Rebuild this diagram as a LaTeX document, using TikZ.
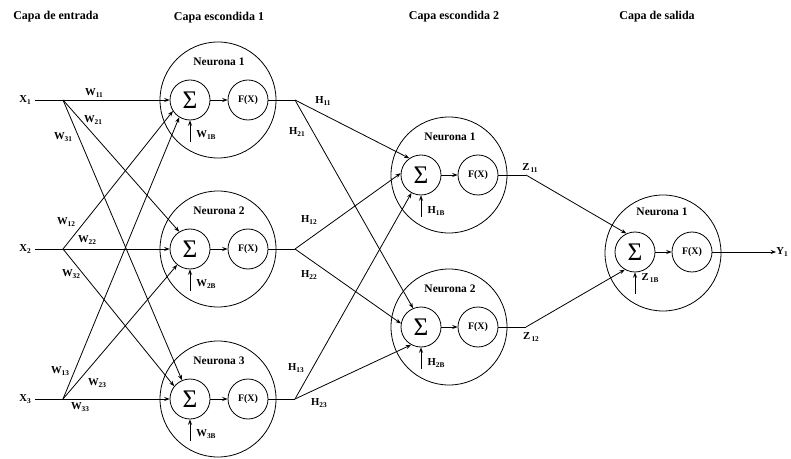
\documentclass[tikz,border=0pt]{standalone}
\usepackage{fontspec}
\setmainfont{Liberation Serif}
\usetikzlibrary{arrows.meta}
% letter with a small lowered index
\newcommand{\idx}[2]{#1\raisebox{-0.35ex}{\fontsize{5.5}{5.5}\selectfont #2}}

\begin{document}
\begin{tikzpicture}[x=0.75pt,y=-0.75pt,
  lbl/.style={font=\bfseries\fontsize{8}{9}\selectfont, inner sep=0pt},
  nlbl/.style={font=\bfseries\fontsize{8.6}{10}\selectfont, inner sep=0pt},
  layertitle/.style={font=\bfseries\fontsize{9}{10}\selectfont, inner sep=0pt},
  neuron/.style={circle, draw, line width=0.6pt, minimum size=87pt, inner sep=0pt},
  sumnode/.style={circle, draw, line width=0.6pt, minimum size=30pt, inner sep=0pt, font=\fontsize{19}{19}\selectfont},
  fnode/.style={circle, draw, line width=0.6pt, minimum size=30pt, inner sep=0pt, font=\bfseries\fontsize{7.5}{8}\selectfont},
  wire/.style={line width=0.6pt},
  arr/.style={wire, -{Stealth[length=4pt,width=3pt]}},
]
\path[use as bounding box] (0,0) rectangle (791,459);

% layer titles
\node[layertitle] (ti0) at (56,17) {Capa de entrada};
\node[layertitle] (ti1) at (219,18) {Capa escondida 1};
\node[layertitle] (ti2) at (454,17) {Capa escondida 2};
\node[layertitle] (ti3) at (657,17) {Capa de salida};

% hidden layer 1
\foreach \i/\y in {1/100,2/249,3/399}{
  \node[neuron] (n1\i) at (218,\y) {};
  \node[sumnode] (s1\i) at (190,\y) {Σ};
  \node[fnode] (f1\i) at (248,\y) {F(X)};
  \node[nlbl] (nl1\i) at (219,\y-38) {Neurona \i};
  \draw[arr] (s1\i) -- (f1\i);
  \coordinate (bb1\i) at (190,\y+42);
  \draw[arr] (bb1\i) -- (s1\i.south);
  \node[lbl] (bl1\i) at (206,\y+35) {\idx{W}{\i B}};
  \coordinate (h\i) at (295,\y);
  \draw[wire] (f1\i) -- (h\i);
  \coordinate (x\i) at (63,\y);
  \node[lbl] (xl\i) at (25,\y) {\idx{X}{\i}};
  \draw[wire] (xl\i.east) ++(4,0) coordinate (xs\i) -- (x\i);
}

% input weights
\draw[arr] (x1) -- (s11.west);
\draw[arr] (x1) -- (s12.122);
\draw[arr] (x1) -- (s13.113);
\draw[arr] (x2) -- (s11.213);
\draw[arr] (x2) -- (s12.west);
\draw[arr] (x2) -- (s13.141);
\draw[arr] (x3) -- (s11.238);
\draw[arr] (x3) -- (s12.231);
\draw[arr] (x3) -- (s13.west);

\node[lbl] (w11) at (94,93) {\idx{W}{11}};
\node[lbl] (w21) at (93,120) {\idx{W}{21}};
\node[lbl] (w31) at (63,137) {\idx{W}{31}};
\node[lbl] (w12) at (66,222) {\idx{W}{12}};
\node[lbl] (w22) at (87,240) {\idx{W}{22}};
\node[lbl] (w32) at (71,274) {\idx{W}{32}};
\node[lbl] (w13) at (60,371) {\idx{W}{13}};
\node[lbl] (w23) at (97,383) {\idx{W}{23}};
\node[lbl] (w33) at (80,407) {\idx{W}{33}};

% hidden layer 2
\foreach \i/\y in {1/175,2/327}{
  \node[neuron] (n2\i) at (449,\y) {};
  \node[sumnode] (s2\i) at (421,\y) {Σ};
  \node[fnode] (f2\i) at (478,\y) {F(X)};
  \node[nlbl] (nl2\i) at (450,\y-38) {Neurona \i};
  \draw[arr] (s2\i) -- (f2\i);
  \coordinate (bb2\i) at (421,\y+42);
  \draw[arr] (bb2\i) -- (s2\i.south);
  \node[lbl] (bl2\i) at (436,\y+36) {\idx{H}{\i B}};
  \coordinate (z\i) at (526,\y);
  \draw[wire] (f2\i) -- (z\i);
}

\draw[arr] (h1) -- (s21.125);
\draw[arr] (h1) -- (s22.113);
\draw[arr] (h2) -- (s21.175);
\draw[arr] (h2) -- (s22.170);
\draw[arr] (h3) -- (s21.242);
\draw[arr] (h3) -- (s22.241);

\node[lbl] (hl11) at (323,101) {\idx{H}{11}};
\node[lbl] (hl21) at (297,132) {\idx{H}{21}};
\node[lbl] (hl12) at (309,220) {\idx{H}{12}};
\node[lbl] (hl22) at (309,275) {\idx{H}{22}};
\node[lbl] (hl13) at (296,368) {\idx{H}{13}};
\node[lbl] (hl23) at (319,403) {\idx{H}{23}};

% output layer
\node[neuron] (n31) at (663,253) {};
\node[sumnode] (s31) at (635,252) {Σ};
\node[fnode] (f31) at (692,252) {F(X)};
\node[nlbl] (nl31) at (662,212) {Neurona 1};
\draw[arr] (s31) -- (f31);
\coordinate (bb31) at (635,294);
\draw[arr] (bb31) -- (s31.south);
\node[lbl] (bl31) at (650,278) {\idx{Z}{\,1B}};
\node[lbl] (y1) at (782,252) {\idx{Y}{1}};
\draw[arr] (f31) -- (y1.west);

\draw[arr] (z1) -- (s31.115);
\draw[arr] (z2) -- (s31.240);
\node[lbl] (zl11) at (530,168) {\idx{Z}{\,11}};
\node[lbl] (zl12) at (531,337) {\idx{Z}{\,12}};
\end{tikzpicture}
\end{document}
